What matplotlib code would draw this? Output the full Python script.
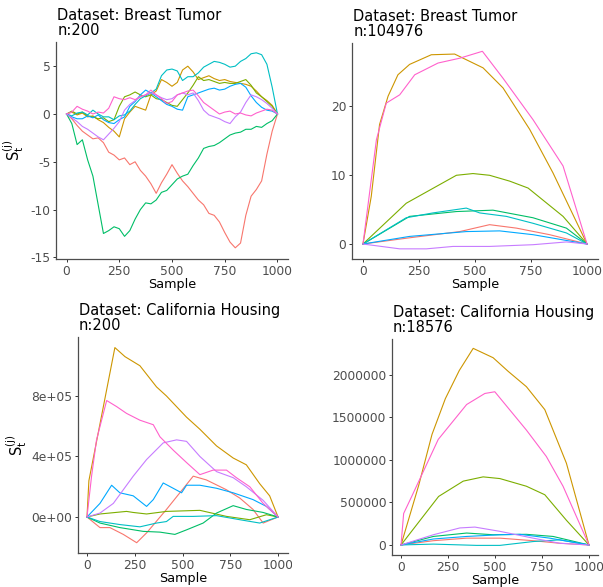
import matplotlib
matplotlib.use("Agg")
import matplotlib.pyplot as plt
from matplotlib.transforms import Bbox, TransformedBbox

plt.rcParams["axes.unicode_minus"] = False

# ---------------- colours (ggplot hue palette, 8 series) ----------------
series_colors = ["#F8766D", "#CD9600", "#7CAE00", "#00BE67",
                 "#00BFC4", "#00A9FF", "#C77CFF", "#FF61CC"]

# ---------------- Panel 1: Breast Tumor, n:200 ----------------
tl_x = list(range(0, 1001, 25))
tl_red = [0, -0.5, -1.2, -1.8, -2.2, -2.6, -2.5, -3.0, -4.0, -4.3, -4.8, -4.6, -5.3, -5.0, -5.9,
          -6.5, -7.3, -8.3, -7.2, -6.3, -5.3, -6.2, -7.0, -7.6, -8.3, -9.0, -9.5, -10.4, -10.6,
          -11.3, -12.4, -13.4, -14.0, -13.5, -10.6, -8.6, -7.9, -7.0, -4.2, -1.8, 0]
tl_gold = [0, 0.2, -0.1, 0.1, -0.3, -0.2, -0.6, -0.9, -1.4, -1.8, -2.4, -0.5, 0.2, 0.8, 0.6,
           0.4, 2.0, 2.4, 3.6, 3.3, 2.9, 3.3, 4.6, 5.0, 4.4, 3.6, 3.8, 4.0, 3.7, 3.5, 3.6, 3.4,
           3.3, 3.2, 3.1, 2.9, 2.4, 1.8, 1.4, 0.9, 0]
tl_olive = [0, 0.3, 0.0, 0.2, -0.2, -0.3, -0.5, -0.4, -0.8, -0.6, 0.8, 1.8, 2.0, 2.3, 2.0,
            1.8, 2.0, 1.6, 1.5, 1.2, 0.9, 0.8, 1.5, 2.2, 3.0, 3.9, 3.5, 3.6, 3.4, 3.2, 3.3,
            3.2, 3.2, 3.4, 3.6, 3.0, 2.2, 1.8, 1.3, 0.8, 0]
tl_green = [0, -1.0, -3.2, -2.7, -4.8, -6.5, -9.5, -12.5, -12.2, -11.8, -12.0, -12.8, -12.2,
            -11.0, -10.0, -9.3, -9.4, -9.0, -8.2, -8.0, -7.4, -6.8, -6.5, -6.3, -5.4, -4.6,
            -3.6, -3.4, -3.3, -3.0, -2.6, -2.2, -2.0, -1.9, -1.6, -1.6, -1.3, -1.4, -1.0, -0.7, 0]
tl_cyan = [0, -0.2, 0.1, 0.2, -0.1, 0.4, 0.0, -0.3, -0.3, -0.6, -0.2, -0.1, 0.3, 1.0, 1.6,
           1.9, 2.2, 2.6, 4.0, 4.6, 4.7, 4.5, 3.5, 3.9, 3.9, 4.3, 4.9, 5.2, 5.5, 5.4, 5.2, 4.9,
           5.0, 5.5, 5.8, 6.3, 6.4, 6.2, 5.2, 2.8, 0]
tl_blue = [0, -0.3, -0.5, -0.5, -0.2, -0.4, -0.1, -0.6, -0.9, -1.0, -0.6, -0.3, 0.8, 1.3, 2.0,
           2.5, 2.2, 1.8, 1.4, 1.0, 0.8, 0.5, 0.4, 1.8, 2.0, 2.2, 2.4, 2.6, 2.7, 2.5, 2.6, 2.9,
           3.1, 3.2, 2.8, 1.9, 1.2, 0.7, 0.4, 0.3, 0]
tl_purple = [0, -0.4, -0.8, -1.3, -1.6, -2.0, -2.4, -2.7, -2.1, -1.5, -0.8, 0.4, 1.0, 1.4, 1.8,
             2.0, 2.2, 2.0, 1.7, 1.5, 1.6, 2.0, 2.2, 2.0, 2.2, 1.4, 0.4, -0.1, -0.3, -0.5, -0.8,
             -1.0, -0.3, 0.2, 1.2, 2.0, 1.8, 1.5, 1.1, 0.6, 0]
tl_pink = [0, 0.2, 0.8, 0.5, 0.3, 0.0, 0.2, 0.1, 0.6, 1.8, 1.6, 1.5, 1.7, 1.5, 1.8, 2.0, 2.5,
           2.0, 1.6, 1.1, 1.3, 2.0, 2.2, 2.4, 2.5, 1.9, 1.2, 0.8, 0.4, 0.0, 0.2, 0.3, 0.0, 0.1,
           -0.1, -0.2, 0.1, 0.3, 0.5, 0.4, 0]

# ---------------- Panel 2: Breast Tumor, n:104976 ----------------
tr_red_x = [0, 208, 432, 565, 685, 833, 1000]
tr_red_y = [0, 0.9, 1.8, 2.8, 2.3, 1.35, 0]
tr_gold_x = [0, 37, 74, 112, 156, 208, 305, 409, 536, 625, 744, 848, 1000]
tr_gold_y = [0, 6.9, 17.3, 21.4, 24.5, 26.0, 27.4, 27.5, 25.5, 22.6, 16.6, 10.3, 0]
tr_olive_x = [0, 193, 417, 491, 565, 655, 737, 893, 1000]
tr_olive_y = [0, 5.9, 9.95, 10.2, 9.95, 9.1, 8.1, 4.0, 0]
tr_green_x = [0, 208, 417, 580, 759, 908, 1000]
tr_green_y = [0, 4.0, 4.7, 4.9, 3.8, 2.3, 0]
tr_cyan_x = [0, 193, 312, 461, 521, 640, 759, 908, 1000]
tr_cyan_y = [0, 3.8, 4.5, 5.2, 4.5, 4.0, 3.0, 1.6, 0]
tr_blue_x = [0, 208, 461, 610, 759, 1000]
tr_blue_y = [0, 1.1, 1.8, 1.9, 1.35, 0]
tr_purple_x = [0, 164, 283, 402, 565, 759, 908, 1000]
tr_purple_y = [0, -0.7, -0.7, -0.35, -0.35, -0.1, 0.3, 0]
tr_pink_x = [0, 60, 104, 164, 231, 335, 432, 533, 625, 759, 893, 1000]
tr_pink_y = [0, 15.1, 20.4, 21.6, 24.5, 26.2, 26.9, 27.9, 24.0, 18.0, 11.3, 0]

# ---------------- Panel 3: California Housing, n:200 ----------------
bl_red_x = [0, 68, 120, 190, 260, 312, 416, 486, 556, 625, 730, 800, 869, 922, 1000]
bl_red_y = [0, -0.7e5, -0.7e5, -1.15e5, -1.7e5, -1.05e5, 0.5e5, 1.6e5, 2.7e5, 2.45e5, 1.8e5,
            1.25e5, 0.5e5, -0.4e5, 0]
bl_gold_x = [0, 10, 146, 199, 277, 364, 416, 521, 591, 678, 765, 834, 904, 956, 1000]
bl_gold_y = [0, 2.4e5, 11.2e5, 10.6e5, 10.0e5, 8.6e5, 8.0e5, 6.6e5, 5.8e5, 4.7e5, 3.9e5,
             3.45e5, 2.2e5, 1.4e5, 0]
bl_olive_x = [0, 68, 207, 242, 312, 416, 591, 730, 852, 939, 1000]
bl_olive_y = [0, 0.2e5, 0.37e5, 0.3e5, 0.2e5, 0.37e5, 0.44e5, 0.04e5, -0.18e5, 0.15e5, 0]
bl_green_x = [0, 68, 172, 294, 382, 460, 521, 608, 678, 765, 834, 922, 1000]
bl_green_y = [0, -0.4e5, -0.7e5, -0.95e5, -1.0e5, -1.15e5, -0.85e5, -0.4e5, 0.26e5, 0.75e5,
              0.5e5, 0.3e5, 0]
bl_cyan_x = [0, 68, 172, 277, 364, 416, 451, 556, 678, 800, 904, 1000]
bl_cyan_y = [0, -0.3e5, -0.5e5, -0.65e5, -0.4e5, -0.3e5, 0.04e5, 0.04e5, 0.09e5, -0.18e5,
             -0.4e5, 0]
bl_blue_x = [0, 68, 129, 172, 242, 312, 347, 399, 451, 495, 521, 591, 678, 765, 869, 939, 1000]
bl_blue_y = [0, 0.9e5, 2.1e5, 1.6e5, 1.4e5, 0.7e5, 1.15e5, 2.25e5, 1.9e5, 1.6e5, 2.1e5, 2.1e5,
             1.9e5, 1.6e5, 1.15e5, 0.7e5, 0]
bl_purple_x = [0, 68, 138, 242, 312, 399, 469, 521, 591, 678, 765, 834, 922, 1000]
bl_purple_y = [0, 0.26e5, 0.9e5, 2.7e5, 3.8e5, 4.9e5, 5.1e5, 5.0e5, 4.0e5, 3.0e5, 2.6e5,
               2.0e5, 1.1e5, 0]
bl_pink_x = [0, 24, 50, 103, 155, 207, 277, 347, 382, 453, 521, 591, 660, 730, 782, 852, 922, 1000]
bl_pink_y = [0, 2.7e5, 5.1e5, 7.7e5, 7.3e5, 6.85e5, 6.4e5, 6.1e5, 5.3e5, 4.4e5, 3.6e5, 2.8e5,
             3.1e5, 3.1e5, 2.6e5, 2.0e5, 0.9e5, 0]

# ---------------- Panel 4: California Housing, n:18576 ----------------
br_red_x = [0, 172, 349, 526, 703, 844, 1000]
br_red_y = [0, 0.05e6, 0.08e6, 0.08e6, 0.05e6, 0.02e6, 0]
br_gold_x = [0, 94, 165, 236, 310, 384, 490, 570, 667, 765, 880, 1000]
br_gold_y = [0, 0.70e6, 1.30e6, 1.72e6, 2.05e6, 2.31e6, 2.2e6, 2.04e6, 1.86e6, 1.59e6, 0.96e6, 0]
br_olive_x = [0, 200, 331, 437, 526, 667, 765, 880, 1000]
br_olive_y = [0, 0.57e6, 0.75e6, 0.8e6, 0.78e6, 0.69e6, 0.59e6, 0.29e6, 0]
br_green_x = [0, 172, 349, 490, 667, 809, 1000]
br_green_y = [0, 0.1e6, 0.14e6, 0.12e6, 0.125e6, 0.1e6, 0]
br_cyan_x = [0, 172, 402, 526, 703, 844, 1000]
br_cyan_y = [0, 0.01e6, -0.005e6, -0.005e6, 0.04e6, 0.06e6, 0]
br_blue_x = [0, 172, 349, 526, 632, 791, 1000]
br_blue_y = [0, 0.07e6, 0.1e6, 0.12e6, 0.125e6, 0.08e6, 0]
br_purple_x = [0, 172, 313, 393, 526, 703, 844, 1000]
br_purple_y = [0, 0.12e6, 0.2e6, 0.21e6, 0.16e6, 0.08e6, 0.02e6, 0]
br_pink_x = [0, 14, 59, 198, 349, 446, 499, 667, 773, 862, 1000]
br_pink_y = [0, 0.37e6, 0.58e6, 1.24e6, 1.65e6, 1.78e6, 1.8e6, 1.35e6, 1.04e6, 0.69e6, 0]

titles = ["Dataset: Breast Tumor\nn:200", "Dataset: Breast Tumor\nn:104976",
          "Dataset: California Housing\nn:200", "Dataset: California Housing\nn:18576"]
x_ticks = [0, 250, 500, 750, 1000]
tl_yticks = [-15, -10, -5, 0, 5]
tr_yticks = [0, 10, 20]
bl_yticks = [0, 4e5, 8e5]
bl_yticklabels = ["0e+00", "4e+05", "8e+05"]
br_yticks = [0, 500000, 1000000, 1500000, 2000000]

# ---------------- drawing ----------------
W, H = 603, 587
fig = plt.figure(figsize=(W / 100, H / 100), dpi=100)

def rect(l, r, t, b):
    return [l / W, 1 - b / H, (r - l) / W, (b - t) / H]

ax_tl = fig.add_axes(rect(56, 288, 42, 259))
ax_tr = fig.add_axes(rect(352, 598, 43, 259))
ax_bl = fig.add_axes(rect(78, 288, 337, 553))
ax_br = fig.add_axes(rect(392, 598, 339, 555))

lw = 0.8
for ys, c in zip([tl_red, tl_gold, tl_olive, tl_green, tl_cyan, tl_blue, tl_purple, tl_pink],
                 series_colors):
    ax_tl.plot(tl_x, ys, color=c, lw=lw)

for (xs, ys), c in zip([(tr_red_x, tr_red_y), (tr_gold_x, tr_gold_y), (tr_olive_x, tr_olive_y),
                        (tr_green_x, tr_green_y), (tr_cyan_x, tr_cyan_y), (tr_blue_x, tr_blue_y),
                        (tr_purple_x, tr_purple_y), (tr_pink_x, tr_pink_y)], series_colors):
    ax_tr.plot(xs, ys, color=c, lw=lw)

for (xs, ys), c in zip([(bl_red_x, bl_red_y), (bl_gold_x, bl_gold_y), (bl_olive_x, bl_olive_y),
                        (bl_green_x, bl_green_y), (bl_cyan_x, bl_cyan_y), (bl_blue_x, bl_blue_y),
                        (bl_purple_x, bl_purple_y), (bl_pink_x, bl_pink_y)], series_colors):
    ax_bl.plot(xs, ys, color=c, lw=lw)

for (xs, ys), c in zip([(br_red_x, br_red_y), (br_gold_x, br_gold_y), (br_olive_x, br_olive_y),
                        (br_green_x, br_green_y), (br_cyan_x, br_cyan_y), (br_blue_x, br_blue_y),
                        (br_purple_x, br_purple_y), (br_pink_x, br_pink_y)], series_colors):
    ax_br.plot(xs, ys, color=c, lw=lw)

ax_tl.set_xlim(-50, 1050); ax_tl.set_ylim(-15.17, 7.53)
ax_tr.set_xlim(-49, 1049); ax_tr.set_ylim(-2.17, 29.1)
ax_bl.set_xlim(-47, 1052); ax_bl.set_ylim(-2.38e5, 1.19e6)
ax_br.set_xlim(-48, 1048); ax_br.set_ylim(-1.18e5, 2.42e6)

ax_tl.set_yticks(tl_yticks)
ax_tr.set_yticks(tr_yticks)
ax_bl.set_yticks(bl_yticks); ax_bl.set_yticklabels(bl_yticklabels)
ax_br.set_yticks(br_yticks); ax_br.set_yticklabels([str(v) for v in br_yticks])

tick_fs = 8.8
for ax, title in zip([ax_tl, ax_tr, ax_bl, ax_br], titles):
    ax.set_xticks(x_ticks)
    ax.set_xticklabels([str(v) for v in x_ticks])
    for side in ["top", "right"]:
        ax.spines[side].set_visible(False)
    for side in ["left", "bottom"]:
        ax.spines[side].set_color("#4D4D4D")
        ax.spines[side].set_linewidth(0.9)
    ax.tick_params(axis="both", colors="#333333", labelcolor="#4D4D4D", labelsize=tick_fs,
                   length=2.5, width=0.7, pad=1.5)
    ax.set_xlabel("Sample", fontsize=9.2, color="black", labelpad=0)
    ax.set_title(title, loc="left", fontsize=10.5, pad=5, linespacing=1.0, x=0.005)
    ax.set_facecolor("white")

ylab = r"$\mathrm{S}_\mathrm{t}^{(\mathrm{j})}$"
ax_tl.set_ylabel(ylab, fontsize=10.5)
ax_tl.yaxis.set_label_coords((26 - 56) / 232, 0.5)
ax_bl.set_ylabel(ylab, fontsize=10.5)
ax_bl.yaxis.set_label_coords((29 - 78) / 210, 0.5)

# clip left-column tick labels at the panel boundary, as in the reference
clip = TransformedBbox(Bbox([[0, 0], [291.5 / W, 1]]), fig.transFigure)
for ax in [ax_tl, ax_bl]:
    for lab in ax.get_xticklabels():
        lab.set_clip_on(True)
        lab.set_clip_box(clip)

fig.savefig("out.png", dpi=100, facecolor="white")
